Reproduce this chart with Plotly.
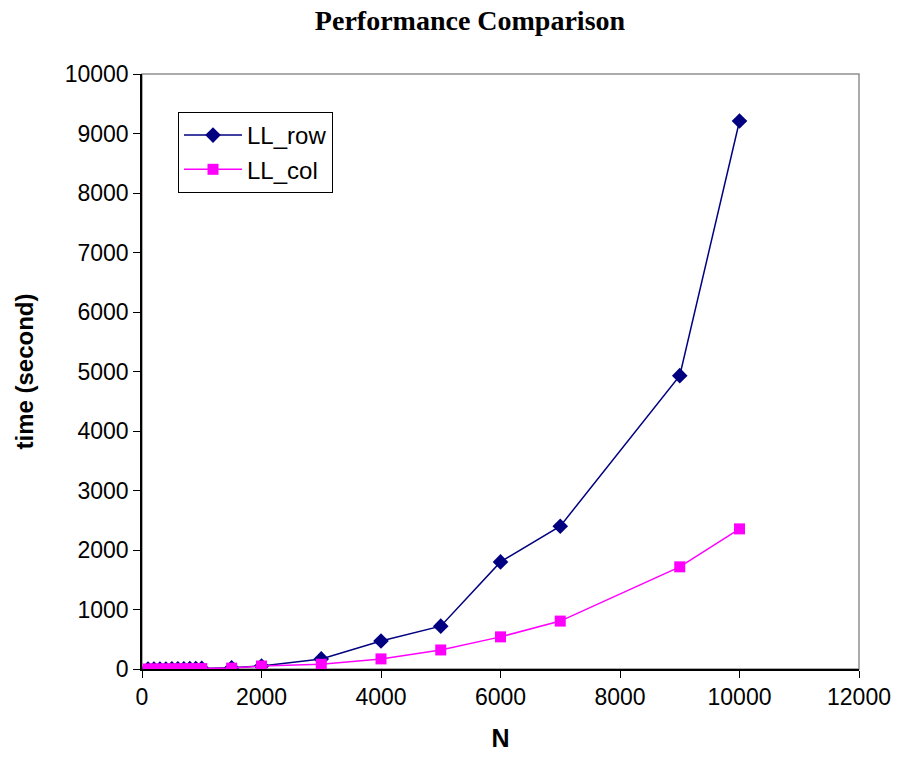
import plotly.graph_objects as go

N = [100, 200, 300, 400, 500, 600, 700, 800, 900, 1000, 1500, 2000, 3000, 4000, 5000, 6000, 7000, 9000, 10000]
ll_row = [0.1, 0.3, 0.6, 1, 2, 3, 4, 6, 8, 10, 20, 50, 170, 470, 720, 1800, 2400, 4930, 9210]
ll_col = [0.1, 0.2, 0.4, 0.7, 1, 2, 3, 4, 5, 7, 15, 50, 80, 170, 320, 540, 805, 1717, 2355]

x_ticks = [0, 2000, 4000, 6000, 8000, 10000, 12000]
y_ticks = [0, 1000, 2000, 3000, 4000, 5000, 6000, 7000, 8000, 9000, 10000]

SANS = "Liberation Sans, Arial, sans-serif"

fig = go.Figure()
fig.add_trace(go.Scatter(
    x=N, y=ll_row, name="LL_row", mode="lines+markers",
    line=dict(color="#000080", width=1.5),
    marker=dict(symbol="diamond", size=12, color="#000080"),
))
fig.add_trace(go.Scatter(
    x=N, y=ll_col, name="LL_col", mode="lines+markers",
    line=dict(color="#FF00FF", width=1.5),
    marker=dict(symbol="square", size=11, color="#FF00FF"),
))

fig.add_shape(type="rect", xref="paper", yref="paper", x0=0, x1=1, y0=0, y1=1,
              line=dict(color="#909090", width=1.5), layer="below")

fig.update_layout(
    width=899, height=766,
    margin=dict(l=142, r=40, t=74, b=97),
    paper_bgcolor="white", plot_bgcolor="white",
    title=dict(text="<b>Performance Comparison</b>", x=470/899, xanchor="center",
               y=1 - 20/766, yanchor="middle", automargin=False,
               font=dict(family="Liberation Serif, serif", size=28, color="black")),
    showlegend=True,
    legend=dict(x=(178-142)/717, y=(669-112)/595, xanchor="left", yanchor="top",
                bordercolor="black", borderwidth=1, bgcolor="white",
                font=dict(family=SANS, size=24, color="black"),
                itemwidth=58, tracegroupgap=16),
    xaxis=dict(range=[0, 12000], tickvals=x_ticks, ticktext=[str(v) for v in x_ticks],
               ticks="outside", ticklen=7, automargin=False,
               tickcolor="black", showline=True, linecolor="black", linewidth=1.5,
               showgrid=False, zeroline=False,
               tickfont=dict(family=SANS, size=23, color="black"),
               title=dict(text="<b>N</b>", standoff=20,
                          font=dict(family=SANS, size=25, color="black"))),
    yaxis=dict(range=[0, 10000], tickvals=y_ticks, ticktext=[str(v) for v in y_ticks],
               ticks="outside", ticklen=7, automargin=False,
               tickcolor="black", showline=True, linecolor="black", linewidth=1.5,
               showgrid=False, zeroline=False,
               tickfont=dict(family=SANS, size=23, color="black"),
               title=dict(text="<b>time (second)</b>", standoff=24,
                          font=dict(family=SANS, size=24, color="black"))),
)

fig.write_html("out.html")
